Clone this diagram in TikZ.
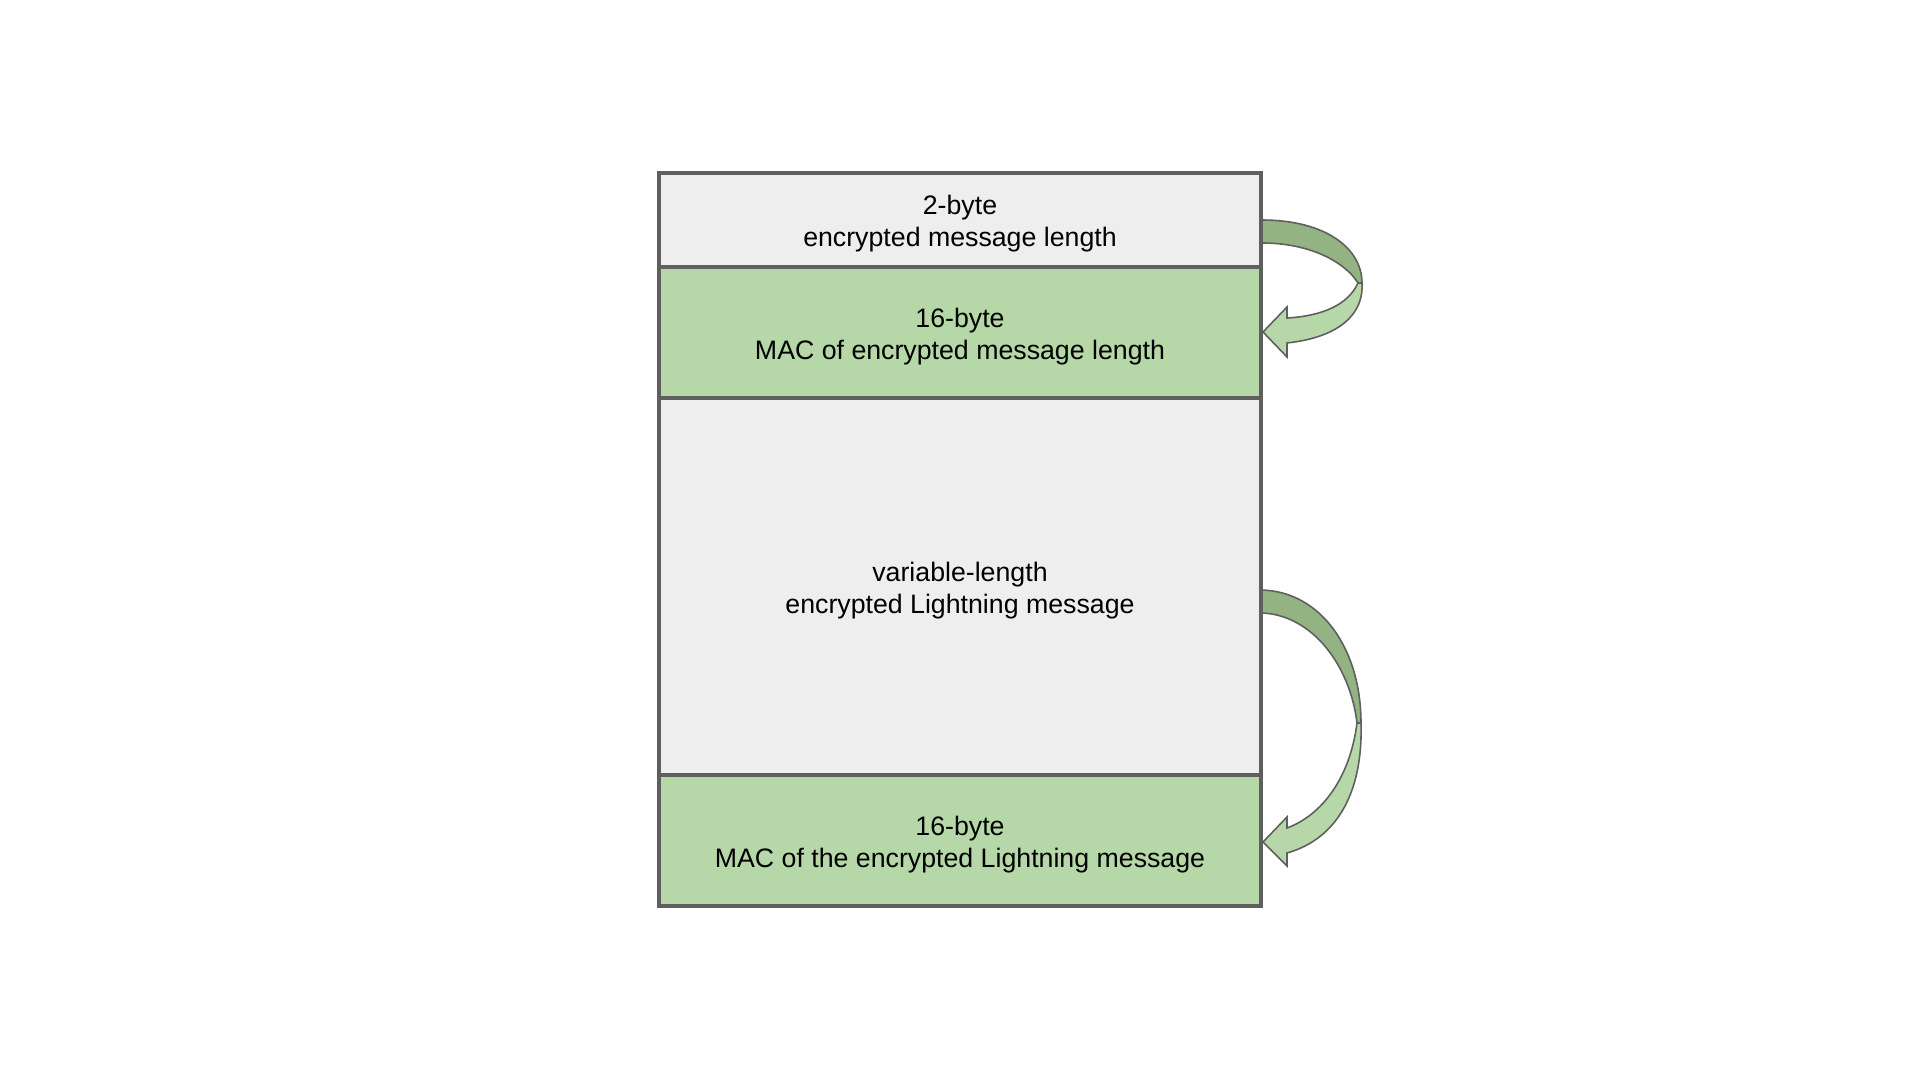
\documentclass[tikz,border=0pt]{standalone}
\usepackage{fontspec}
\setmainfont{Liberation Sans}
\definecolor{boxgray}{HTML}{EEEEEE}
\definecolor{boxgreen}{HTML}{B6D7A8}
\definecolor{darkgreen}{HTML}{93B383}
\definecolor{edgegray}{HTML}{5F5F5F}
\tikzset{
  field/.style={draw=edgegray, line width=1pt, minimum width=6.02cm, inner sep=0pt},
  graybox/.style={field, fill=boxgray},
  greenbox/.style={field, fill=boxgreen},
  fieldtext/.style={align=center, font=\fontsize{7.6}{9.0}\selectfont, text=black, inner sep=0pt},
  bandback/.style={fill=darkgreen, draw=edgegray, line width=0.45pt, line join=round},
  bandfront/.style={fill=boxgreen, draw=edgegray, line width=0.45pt, line join=miter},
}
\begin{document}
\begin{tikzpicture}[x=0.01cm, y=-0.01cm]
\useasboundingbox (0,0) rectangle (1920,1079);
% curved arrows (drawn first, boxes on top)
% top arrow
\draw[bandback] (1262,220) .. controls (1325,220) and (1362,248) .. (1362,283)
  -- (1358,283) .. controls (1345,262) and (1310,243) .. (1262,243) -- cycle;
\draw[bandfront] (1358,283) .. controls (1348,305) and (1322,316) .. (1287,318)
  -- (1287,307) -- (1263,332) -- (1287,357) -- (1287,343)
  .. controls (1342,337) and (1364,312) .. (1362,283) -- cycle;
% bottom arrow
\draw[bandback] (1262,590) .. controls (1322,592) and (1361,650) .. (1361,723)
  -- (1357,723) .. controls (1350,665) and (1312,615) .. (1262,613) -- cycle;
\draw[bandfront] (1357,723) .. controls (1350,778) and (1322,815) .. (1287,828)
  -- (1287,817) -- (1263,842) -- (1287,866) -- (1287,853)
  .. controls (1340,838) and (1363,788) .. (1361,723) -- cycle;
% boxes
\node[graybox, minimum height=0.94cm] (len) at (960,220) {};
\node[greenbox, minimum height=1.31cm] (maclen) at (960,332.5) {};
\node[graybox, minimum height=3.77cm] (msg) at (960,586.5) {};
\node[greenbox, minimum height=1.31cm] (macmsg) at (960,840.5) {};
% texts
\node[fieldtext] (lenT) at ([yshift=-1.1pt]len.center)
  {2-byte\\encrypted message length};
\node[fieldtext] (maclenT) at ([yshift=-1.1pt]maclen.center)
  {16-byte\\MAC of encrypted message length};
\node[fieldtext] (msgT) at ([yshift=-1.1pt]msg.center)
  {variable-length\\encrypted Lightning message};
\node[fieldtext] (macmsgT) at ([yshift=-1.1pt]macmsg.center)
  {16-byte\\MAC of the encrypted Lightning message};
\end{tikzpicture}
\end{document}
